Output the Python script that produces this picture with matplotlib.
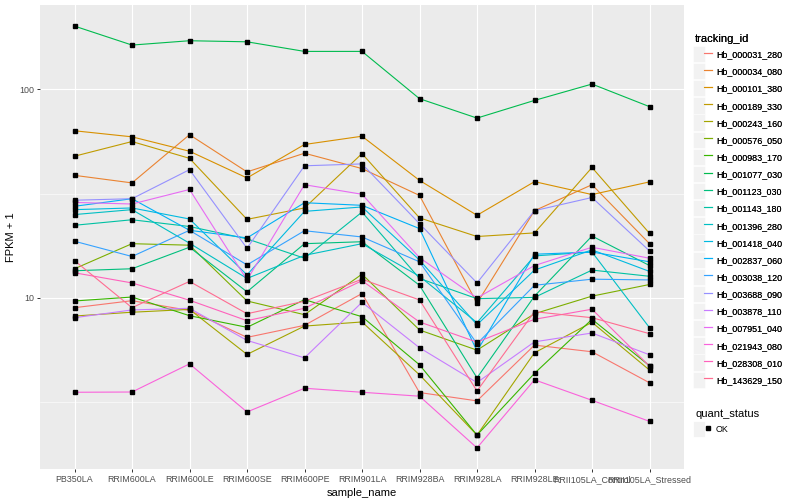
import numpy as np
import matplotlib
matplotlib.use("Agg")
import matplotlib.pyplot as plt
from matplotlib.lines import Line2D
from matplotlib.patches import Rectangle
from matplotlib.legend_handler import HandlerTuple
from matplotlib.ticker import FixedLocator, NullFormatter

plt.rcParams['font.family'] = ['Liberation Sans', 'DejaVu Sans']

samples = ["PB350LA", "RRIM600LA", "RRIM600LE", "RRIM600SE", "RRIM600PE",
           "RRIM901LA", "RRIM928BA", "RRIM928LA", "RRIM928LE",
           "RRII105LA_Control", "RRII105LA_Stressed"]

tracking_ids = ["Hb_000031_280", "Hb_000034_080", "Hb_000101_380", "Hb_000189_330",
                "Hb_000243_160", "Hb_000576_050", "Hb_000983_170", "Hb_001077_030",
                "Hb_001123_030", "Hb_001143_180", "Hb_001396_280", "Hb_001418_040",
                "Hb_002837_060", "Hb_003038_120", "Hb_003688_090", "Hb_003878_110",
                "Hb_007951_040", "Hb_021943_080", "Hb_028308_010", "Hb_143629_150"]

# FPKM + 1, one list per tracking_id, in sample order
Hb_000031_280 = [8.98, 9.70, 8.71, 6.47, 7.39, 10.5, 3.52, 3.21, 5.94, 5.52, 3.92]
Hb_000034_080 = [38.7, 35.6, 60.6, 40.2, 49.4, 41.7, 31.0, 9.43, 26.2, 34.9, 18.2]
Hb_000101_380 = [63.3, 59.2, 50.5, 37.6, 54.4, 59.6, 36.6, 24.9, 36.1, 31.3, 36.0]
Hb_000189_330 = [47.8, 56.2, 46.7, 23.8, 27.0, 49.2, 24.2, 19.7, 20.5, 42.2, 20.4]
Hb_000243_160 = [8.19, 8.54, 8.81, 5.36, 7.33, 7.67, 4.28, 2.20, 5.46, 7.64, 4.51]
Hb_000576_050 = [13.8, 18.2, 17.9, 9.67, 8.31, 13.0, 7.02, 5.62, 8.40, 10.2, 11.6]
Hb_000983_170 = [9.67, 10.1, 8.22, 7.23, 9.81, 8.13, 4.78, 2.20, 4.35, 7.90, 4.73]
Hb_001077_030 = [201.0, 163.0, 171.0, 169.0, 152.0, 152.0, 90.2, 72.8, 88.5, 106.0, 82.6]
Hb_001123_030 = [13.5, 13.8, 17.5, 10.7, 18.2, 18.6, 11.5, 4.14, 10.2, 19.8, 14.3]
Hb_001143_180 = [22.3, 23.7, 22.0, 19.2, 15.5, 25.8, 12.4, 9.92, 10.06, 13.6, 12.7]
Hb_001396_280 = [25.1, 26.5, 18.3, 12.4, 16.0, 18.2, 12.7, 7.61, 15.9, 16.6, 7.20]
Hb_001418_040 = [26.5, 27.0, 23.9, 12.9, 26.0, 27.3, 15.2, 7.44, 13.6, 17.0, 13.4]
Hb_002837_060 = [27.5, 29.9, 21.1, 19.4, 28.6, 27.8, 21.5, 5.56, 16.2, 16.6, 14.9]
Hb_003038_120 = [18.7, 15.8, 21.1, 14.4, 21.0, 19.6, 14.9, 6.03, 11.5, 12.3, 12.2]
Hb_003688_090 = [29.4, 29.9, 41.2, 17.3, 43.0, 43.9, 22.7, 11.8, 26.2, 30.3, 16.8]
Hb_003878_110 = [8.04, 8.76, 8.92, 6.26, 5.16, 9.53, 5.77, 3.93, 6.16, 6.79, 5.34]
Hb_007951_040 = [28.7, 28.2, 33.1, 12.2, 34.9, 31.4, 15.6, 10.0, 14.3, 17.5, 15.5]
Hb_021943_080 = [3.53, 3.54, 4.83, 2.84, 3.69, 3.53, 3.38, 1.91, 4.05, 3.23, 2.56]
Hb_028308_010 = [13.2, 11.8, 9.75, 7.78, 8.92, 12.1, 7.67, 6.14, 7.90, 8.83, 4.71]
Hb_143629_150 = [15.1, 8.98, 12.0, 8.40, 9.64, 12.3, 9.78, 3.58, 8.59, 8.04, 6.74]

series = [Hb_000031_280, Hb_000034_080, Hb_000101_380, Hb_000189_330, Hb_000243_160,
          Hb_000576_050, Hb_000983_170, Hb_001077_030, Hb_001123_030, Hb_001143_180,
          Hb_001396_280, Hb_001418_040, Hb_002837_060, Hb_003038_120, Hb_003688_090,
          Hb_003878_110, Hb_007951_040, Hb_021943_080, Hb_028308_010, Hb_143629_150]

quant_status = ["OK"]

colors = ["#F8766D", "#EA8331", "#D89000", "#C09B00", "#A3A500", "#7CAE00", "#39B600",
          "#00BB4E", "#00BF7D", "#00C1A3", "#00BFC4", "#00BAE0", "#00B0F6", "#35A2FF",
          "#9590FF", "#C77CFF", "#E76BF3", "#FA62DB", "#FF62BC", "#FF6C91"]

W, H = 800, 500
fig = plt.figure(figsize=(8, 5), dpi=100)
ax = fig.add_axes([40 / W, 1 - 469 / H, 644 / W, 464 / H])
ax.set_facecolor("#EBEBEB")
for s in ax.spines.values():
    s.set_visible(False)

x = np.arange(len(samples))
for vals, c in zip(series, colors):
    ax.plot(x, vals, color=c, lw=0.8, zorder=3, solid_capstyle="butt")
for vals in series:
    ax.plot(x, vals, ls="none", marker="s", ms=2.8, color="black", zorder=4)

ax.set_yscale("log")
allv = np.concatenate([np.asarray(v) for v in series])
lo, hi = np.log10(allv.min()), np.log10(allv.max())
pad = 0.05 * (hi - lo)
ax.set_ylim(10 ** (lo - pad), 10 ** (hi + pad))
ax.set_xlim(-0.6, len(samples) - 1 + 0.6)

ax.yaxis.set_major_locator(FixedLocator([10, 100]))
ax.set_yticklabels(["10", "100"])
ax.yaxis.set_minor_locator(FixedLocator([10 ** 0.5, 10 ** 1.5, 10 ** 2.5]))
ax.yaxis.set_minor_formatter(NullFormatter())
ax.set_xticks(x)
ax.set_xticklabels(samples)

ax.grid(which="major", color="white", lw=0.85, zorder=1)
ax.grid(which="minor", axis="y", color="white", lw=0.4, zorder=1)
ax.set_axisbelow(True)
ax.tick_params(which="major", length=2.4, width=0.7, color="#333333",
               labelcolor="#4D4D4D", labelsize=6.4, pad=2)
ax.tick_params(which="minor", length=0)

ax.set_xlabel("sample_name", fontsize=8, color="black", labelpad=3)
ax.set_ylabel("FPKM + 1", fontsize=8, color="black", labelpad=2)

# legends
kl = 17.0 / (6.4 * 100 / 72)
handles = []
for c in colors:
    bg = Rectangle((0, 0), 1, 1, facecolor="#F2F2F2", edgecolor="#F2F2F2", lw=1.6)
    ln = Line2D([], [], color=c, lw=0.8)
    handles.append((bg, ln))
leg1 = fig.legend(handles, tracking_ids, title="tracking_id", loc="upper left",
                  bbox_to_anchor=(695 / W, 1 - 34 / H), frameon=False, fontsize=6.4,
                  title_fontsize=8, alignment="left", handlelength=kl, handleheight=kl,
                  labelspacing=0.44, handletextpad=0.45, borderpad=0, borderaxespad=0,
                  handler_map={tuple: HandlerTuple(ndivide=None, pad=0)})
fig.add_artist(leg1)

bg = Rectangle((0, 0), 1, 1, facecolor="#F2F2F2", edgecolor="#F2F2F2", lw=1.6)
mk = Line2D([], [], ls="none", marker="s", ms=2.8, color="black")
leg2 = fig.legend([(bg, mk)], quant_status, title="quant_status", loc="upper left",
                  bbox_to_anchor=(695 / W, 1 - 409 / H), frameon=False, fontsize=6.4,
                  title_fontsize=8, alignment="left", handlelength=kl, handleheight=kl,
                  labelspacing=0.44, handletextpad=0.45, borderpad=0, borderaxespad=0,
                  handler_map={tuple: HandlerTuple(ndivide=None, pad=0)})

fig.savefig("out.png", dpi=100, facecolor="white")
